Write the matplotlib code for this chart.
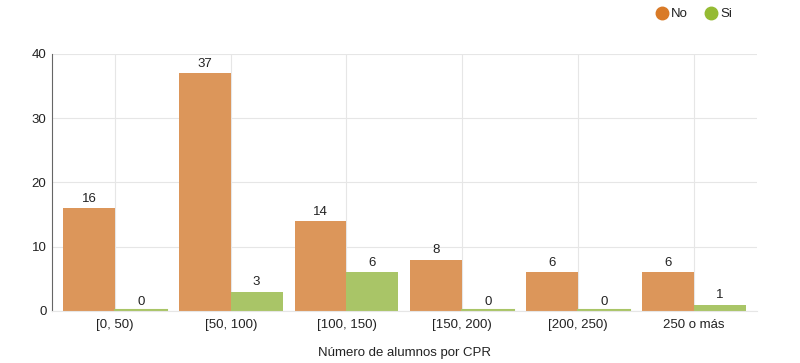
import matplotlib.pyplot as plt
from matplotlib.lines import Line2D
import numpy as np

plt.rcParams['font.family'] = ['Liberation Sans', 'DejaVu Sans']

# Data
categories = ['[0, 50)', '[50, 100)', '[100, 150)', '[150, 200)', '[200, 250)', '250 o más']
no_values = [16, 37, 14, 8, 6, 6]
si_values = [0, 3, 6, 0, 0, 1]

orange = '#d97a27'
green = '#95bb33'
orange_bar = '#dc965a'
green_bar = '#a9c567'

fig = plt.figure(figsize=(8, 3.63), dpi=100)
ax = fig.add_axes([0.065, 0.1433, 0.881, 0.708])

x = np.arange(len(categories))
w = 0.448

b1 = ax.bar(x - w / 2, no_values, w, color=orange_bar, edgecolor='none', zorder=2)
b2 = ax.bar(x + w / 2, si_values, w, color=green_bar, edgecolor='none', zorder=2)
# thin line for zero-height bars
for xi, v in zip(x, si_values):
    if v == 0:
        ax.plot([xi, xi + w], [0.08, 0.08], color=green_bar, lw=1.5, zorder=2)

for rect, v in zip(list(b1) + list(b2), no_values + si_values):
    ax.text(rect.get_x() + rect.get_width() / 2, v + 0.5, str(v),
            ha='center', va='bottom', fontsize=9.5, color='#222222')

ax.set_xlim(-0.543, 5.543)
ax.set_ylim(0, 40)
ax.set_yticks([0, 10, 20, 30, 40])
ax.set_xticks(x)
ax.set_xticklabels(categories)
ax.tick_params(axis='both', length=0, labelsize=9.5, colors='#222222')
ax.tick_params(axis='x', pad=6)
ax.tick_params(axis='y', pad=4)

ax.grid(True, color='#e6e6e6', lw=0.8, zorder=0)
ax.set_axisbelow(True)
for s in ['top', 'right']:
    ax.spines[s].set_visible(False)
ax.spines['left'].set_color('#666666')
ax.spines['bottom'].set_color('#e6e6e6')

ax.set_xlabel('Número de alumnos por CPR', fontsize=9.5, color='#222222', labelpad=11)

# Legend
fig.add_artist(Line2D([0.8275], [0.964], marker='o', markersize=9, color=orange,
                      transform=fig.transFigure))
fig.text(0.838, 0.962, 'No', color='#222222', fontsize=9.5, ha='left', va='center')
fig.add_artist(Line2D([0.889], [0.964], marker='o', markersize=9, color=green,
                      transform=fig.transFigure))
fig.text(0.900, 0.962, 'Si', color='#222222', fontsize=9.5, ha='left', va='center')

plt.savefig('out.png')
